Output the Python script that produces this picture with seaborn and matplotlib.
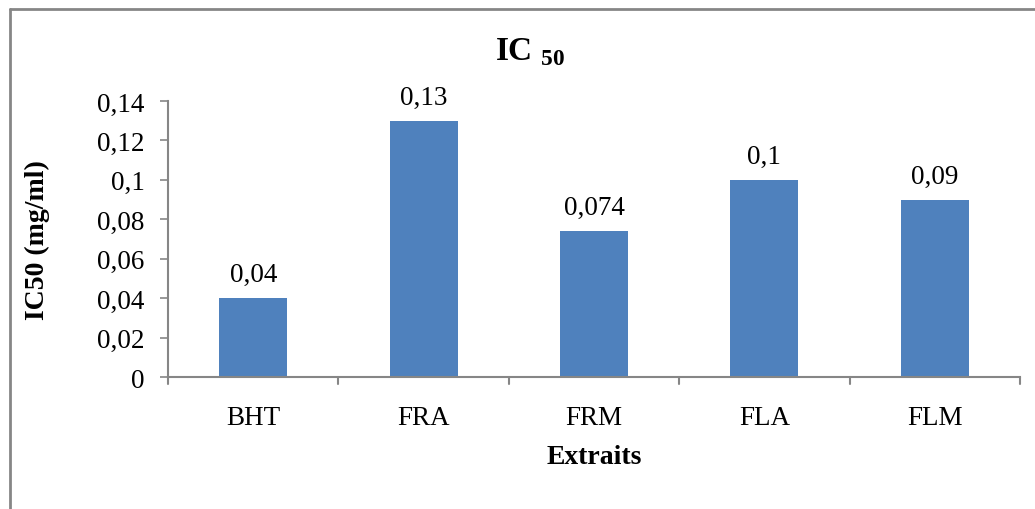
import matplotlib
matplotlib.use("Agg")
import matplotlib.pyplot as plt
import seaborn as sns
import pandas as pd

categories = ["BHT", "FRA", "FRM", "FLA", "FLM"]
values = [0.04, 0.13, 0.074, 0.1, 0.09]
value_labels = ["0,04", "0,13", "0,074", "0,1", "0,09"]
yticks = [0, 0.02, 0.04, 0.06, 0.08, 0.1, 0.12, 0.14]
ytick_labels = ["0", "0,02", "0,04", "0,06", "0,08", "0,1", "0,12", "0,14"]

sns.set_theme(style="white")
plt.rcParams['font.family'] = ['Liberation Serif', 'DejaVu Serif']
plt.rcParams['mathtext.fontset'] = 'custom'
plt.rcParams['mathtext.rm'] = 'Liberation Serif'
plt.rcParams['mathtext.bf'] = 'Liberation Serif:bold'
plt.rcParams['text.color'] = 'black'
plt.rcParams['axes.labelcolor'] = 'black'
plt.rcParams['xtick.color'] = 'black'
plt.rcParams['ytick.color'] = 'black'

df = pd.DataFrame({"cat": categories, "val": values})

fig = plt.figure(figsize=(10.35, 5.10), dpi=100)
ax = fig.add_axes([168/1035, 1-378/510, (1020-168)/1035, (378-102)/510])

sns.barplot(data=df, x="cat", y="val", color="#4F81BD", saturation=1, width=0.4,
            linewidth=0, ax=ax)

ax.set_ylim(0, 0.14)
ax.set_xlim(-0.5, len(categories)-0.5)
ax.set_yticks(yticks)
ax.set_yticklabels(ytick_labels, fontsize=19.5)
ax.tick_params(axis='x', labelsize=19.5, length=0, pad=20)
ax.tick_params(axis='y', left=True, length=6, color="#868686", width=1.2, pad=11)

# category boundary ticks on x axis
for b in [i - 0.5 for i in range(len(categories)+1)]:
    ax.plot([b, b], [0, -0.0035], color="#868686", lw=1.5, clip_on=False)

for s in ["top", "right"]:
    ax.spines[s].set_visible(False)
for s in ["left", "bottom"]:
    ax.spines[s].set_color("#868686")
    ax.spines[s].set_linewidth(1.5)

for i, (v, lab) in enumerate(zip(values, value_labels)):
    ax.annotate(lab, (i, v), xytext=(0, 8), textcoords="offset points",
                ha="center", va="bottom", fontsize=19.5)

ax.set_xlabel("Extraits", fontsize=20, fontweight="bold", labelpad=10)
ax.set_ylabel("IC50 (mg/ml)", fontsize=20, fontweight="bold", labelpad=34)

fig.text(530/1035, 1-52/510, r"IC $_{\mathbf{50}}$", fontsize=24, fontweight="bold",
         ha="center", va="center")

# outer border (only top and left visible in crop)
fig.add_artist(plt.Line2D([10/1035, 10/1035], [0, 1-10/510], transform=fig.transFigure,
                          color="#868686", lw=2))
fig.add_artist(plt.Line2D([10/1035, 1], [1-10/510, 1-10/510], transform=fig.transFigure,
                          color="#868686", lw=2))

fig.savefig("out.png", dpi=100)
